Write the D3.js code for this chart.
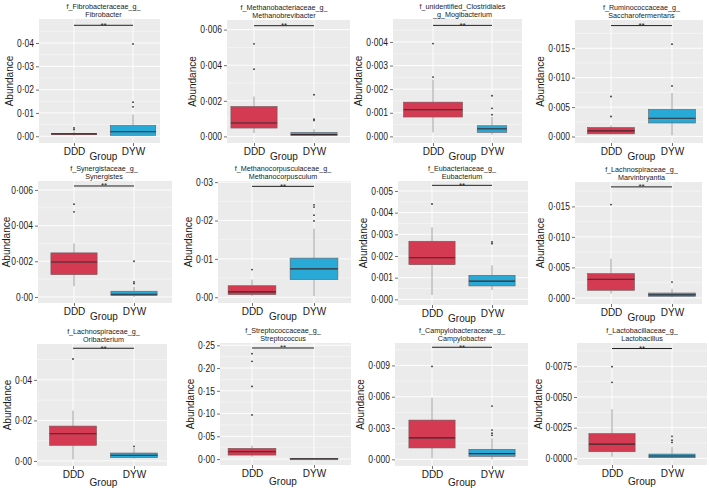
<!DOCTYPE html>
<html><head><meta charset="utf-8">
<script src="https://cdn.jsdelivr.net/npm/d3@7"></script>
<style>
body{margin:0;background:#fff}
text{font-family:"Liberation Sans",Arial,Helvetica,sans-serif}
</style>
</head><body>
<svg id="c" width="709" height="488"></svg>
<script>
// ---------------- DATA ----------------
const groups = ["DDD", "DYW"];
const titles = [
  ["f_Fibrobacteraceae_g_", "Fibrobacter"],
  ["f_Methanobacteriaceae_g_", "Methanobrevibacter"],
  ["f_unidentified_Clostridiales", "_g_Mogibacterium"],
  ["f_Ruminococcaceae_g_", "Saccharofermentans"],
  ["f_Synergistaceae_g_", "Synergistes"],
  ["f_Methanocorpusculaceae_g_", "Methanocorpusculum"],
  ["f_Eubacteriaceae_g_", "Eubacterium"],
  ["f_Lachnospiraceae_g_", "Marvinbryantia"],
  ["f_Lachnospiraceae_g_", "Oribacterium"],
  ["f_Streptococcaceae_g_", "Streptococcus"],
  ["f_Campylobacteraceae_g_", "Campylobacter"],
  ["f_Lactobacillaceae_g_", "Lactobacillus"]
];
const tickValues = [
  [0, 0.01, 0.02, 0.03, 0.04],
  [0, 0.002, 0.004, 0.006],
  [0, 0.001, 0.002, 0.003, 0.004],
  [0, 0.005, 0.010, 0.015],
  [0, 0.002, 0.004, 0.006],
  [0, 0.01, 0.02, 0.03],
  [0, 0.001, 0.002, 0.003, 0.004, 0.005],
  [0, 0.005, 0.010, 0.015],
  [0, 0.02, 0.04],
  [0, 0.05, 0.10, 0.15, 0.20, 0.25],
  [0, 0.003, 0.006, 0.009],
  [0, 0.0025, 0.0050, 0.0075]
];
const tickLabels = [
  ["0·00", "0·01", "0·02", "0·03", "0·04"],
  ["0·000", "0·002", "0·004", "0·006"],
  ["0·000", "0·001", "0·002", "0·003", "0·004"],
  ["0·000", "0·005", "0·010", "0·015"],
  ["0·00", "0·002", "0·004", "0·006"],
  ["0·00", "0·01", "0·02", "0·03"],
  ["0·000", "0·001", "0·002", "0·003", "0·004", "0·005"],
  ["0·000", "0·005", "0·010", "0·015"],
  ["0·00", "0·02", "0·04"],
  ["0·00", "0·05", "0·10", "0·15", "0·20", "0·25"],
  ["0·000", "0·003", "0·006", "0·009"],
  ["0·0000", "0·0025", "0·0050", "0·0075"]
];
const yLimits = [
  [-0.0029, 0.0503], [-0.00037, 0.00654], [-0.00028, 0.00497], [-0.0011, 0.0198],
  [-0.00034, 0.0065], [-0.0015, 0.0303], [-0.00026, 0.00546], [-0.001, 0.019],
  [-0.0025, 0.0577], [-0.013, 0.255], [-0.00064, 0.01115], [-0.00054, 0.0094]
];
const sigY = [0.0476, 0.00622, 0.0047, 0.01885, 0.00622, 0.0289, 0.00526, 0.0182, 0.0556, 0.244, 0.01074, 0.00895];
const sigLabel = "**";
// [lower whisker, q1, median, q3, upper whisker]
const dddStats = [
  [0.0003, 0.0008, 0.0010, 0.0012, 0.0020],
  [0.00019, 0.00047, 0.00075, 0.00168, 0.00224],
  [0.00017, 0.00082, 0.00113, 0.00145, 0.0024],
  [0.0003, 0.00045, 0.00096, 0.00153, 0.00187],
  [0.0006, 0.00125, 0.00196, 0.00247, 0.0030],
  [0.0003, 0.0007, 0.0014, 0.0030, 0.0046],
  [0.0002, 0.0016, 0.00192, 0.00268, 0.00332],
  [0.0007, 0.00125, 0.00305, 0.00398, 0.0064],
  [0.0008, 0.0077, 0.0134, 0.0172, 0.0249],
  [0.005, 0.0088, 0.016, 0.0235, 0.029],
  [0.0001, 0.00109, 0.00206, 0.00376, 0.0059],
  [0.00013, 0.00054, 0.00116, 0.00202, 0.0040]
];
const dywStats = [
  [0.0000, 0.0004, 0.0019, 0.0046, 0.0093],
  [0.0000, 0.00004, 0.00011, 0.00022, 0.0004],
  [0.00007, 0.00017, 0.00032, 0.00045, 0.00082],
  [0.0002, 0.0023, 0.0031, 0.0046, 0.0074],
  [0.0000, 0.00007, 0.00015, 0.00032, 0.00056],
  [0.0003, 0.0046, 0.0074, 0.0102, 0.0179],
  [0.00043, 0.00062, 0.00084, 0.00111, 0.00157],
  [0.0001, 0.00027, 0.0005, 0.0008, 0.0015],
  [0.0011, 0.0016, 0.0028, 0.0039, 0.0065],
  [0.0001, 0.0003, 0.0007, 0.0012, 0.0020],
  [0.0000, 0.00029, 0.00055, 0.00096, 0.0020],
  [0.0000, 0.00005, 0.00019, 0.00035, 0.00094]
];
const dddOutliers = [
  [0.0029, 0.0036], [0.00378, 0.0052], [0.00251, 0.00393], [0.0034, 0.0068],
  [0.00477, 0.0052], [0.0072], [0.0044], [0.0153],
  [0.0503], [0.097, 0.1596, 0.2147, 0.2316], [0.0089], [0.0062, 0.00747]
];
const dywOutliers = [
  [0.0126, 0.0146, 0.0396], [0.0009, 0.00097, 0.00234], [0.00092, 0.00119, 0.00172], [0.0086, 0.0157],
  [0.00075, 0.00084, 0.0020], [0.0199, 0.0214, 0.0235, 0.0241], [0.00257, 0.00265], [0.0026],
  [0.0072], [], [0.0023, 0.0025, 0.0028, 0.0051], [0.0013, 0.00148, 0.0018]
];

// ---------------- LAYOUT (pixels, not data) ----------------
const layout = [
  {x0: 39, x1: 160, y0: 19, y1: 143, c: [74, 133], row: 0},
  {x0: 227, x1: 350, y0: 20, y1: 143, c: [254, 314], row: 0},
  {x0: 393, x1: 522, y0: 19, y1: 143, c: [433, 492], row: 0, bw: [1.0, 0.5]},
  {x0: 575, x1: 703, y0: 20, y1: 143, c: [611, 672], row: 0},
  {x0: 38, x1: 172, y0: 181, y1: 303, c: [74, 134], row: 1},
  {x0: 218, x1: 351, y0: 181, y1: 303, c: [252, 314], row: 1},
  {x0: 398, x1: 528, y0: 181, y1: 305, c: [432, 492], row: 1},
  {x0: 575, x1: 702, y0: 182, y1: 304, c: [611, 672], row: 1},
  {x0: 37, x1: 167, y0: 344, y1: 466, c: [73, 134], row: 2},
  {x0: 220, x1: 351, y0: 343, y1: 465, c: [252, 314], row: 2},
  {x0: 395, x1: 528, y0: 343, y1: 466, c: [432, 492], row: 2},
  {x0: 577, x1: 707, y0: 343, y1: 465, c: [612, 672], row: 2}
];
const fills = ["#D43B52", "#29AAD6"];
const boxW = 0.77;
const FONT = "'Liberation Sans',Arial,sans-serif";

function squeeze(sel, f) {
  sel.each(function () {
    const len = this.getComputedTextLength();
    d3.select(this).attr("textLength", len * f).attr("lengthAdjust", "spacingAndGlyphs");
  });
}

const svg = d3.select("#c");
svg.append("rect").attr("width", 709).attr("height", 488).attr("fill", "#fff");

layout.forEach((L, i) => {
  const g = svg.append("g");
  const x = d3.scaleLinear().domain([1, 2]).range(L.c);
  const y = d3.scaleLinear().domain(yLimits[i]).range([L.y1, L.y0]);
  const W = L.x1 - L.x0;

  g.append("rect").attr("x", L.x0).attr("y", L.y0).attr("width", W).attr("height", L.y1 - L.y0).attr("fill", "#EBEBEB");

  const tv = tickValues[i];
  const step = tv[1] - tv[0];
  const minors = [];
  for (let k = -1; k < tv.length; k++) {
    const m = tv[0] + step * (k + 0.5);
    if (m > yLimits[i][0] && m < yLimits[i][1]) minors.push(m);
  }
  g.selectAll(".mn").data(minors).enter().append("line")
    .attr("x1", L.x0).attr("x2", L.x1).attr("y1", d => y(d)).attr("y2", d => y(d))
    .attr("stroke", "#fff").attr("stroke-width", 0.45).attr("stroke-opacity", 0.9);
  g.selectAll(".mj").data(tv).enter().append("line")
    .attr("x1", L.x0).attr("x2", L.x1).attr("y1", d => y(d)).attr("y2", d => y(d))
    .attr("stroke", "#fff").attr("stroke-width", 0.9);
  g.selectAll(".vj").data([1, 2]).enter().append("line")
    .attr("x1", d => x(d)).attr("x2", d => x(d)).attr("y1", L.y0).attr("y2", L.y1)
    .attr("stroke", "#fff").attr("stroke-width", 0.9);

  const stats = [dddStats[i], dywStats[i]];
  const outs = [dddOutliers[i], dywOutliers[i]];
  stats.forEach((s, gi) => {
    const cx = gi + 1;
    const bw = (L.bw ? L.bw[gi] : boxW) / 2;
    g.append("line").attr("x1", x(cx)).attr("x2", x(cx)).attr("y1", y(s[0])).attr("y2", y(s[1]))
      .attr("stroke", "#8a8a8a").attr("stroke-width", 0.8);
    g.append("line").attr("x1", x(cx)).attr("x2", x(cx)).attr("y1", y(s[3])).attr("y2", y(s[4]))
      .attr("stroke", "#8a8a8a").attr("stroke-width", 0.8);
    g.append("rect").attr("x", x(cx - bw)).attr("y", y(s[3]))
      .attr("width", x(cx + bw) - x(cx - bw)).attr("height", Math.max(1.2, y(s[1]) - y(s[3])))
      .attr("fill", fills[gi]).attr("stroke", "#6b5a5c").attr("stroke-width", 0.6);
    g.append("line").attr("x1", x(cx - bw)).attr("x2", x(cx + bw)).attr("y1", y(s[2])).attr("y2", y(s[2]))
      .attr("stroke", "#3a2a2c").attr("stroke-width", 1.1);
    g.selectAll(null).data(outs[gi]).enter().append("circle")
      .attr("cx", x(cx)).attr("cy", d => y(d)).attr("r", 0.9).attr("fill", "#333");
  });

  g.append("line").attr("x1", x(1)).attr("x2", x(2)).attr("y1", y(sigY[i])).attr("y2", y(sigY[i]))
    .attr("stroke", "#222").attr("stroke-width", 1);
  g.append("text").attr("x", x(1.5)).attr("y", y(sigY[i]) + 2.4).attr("text-anchor", "middle")
    .attr("font-size", 8).attr("fill", "#222").text(sigLabel);

  const ya = g.append("g").attr("transform", `translate(${L.x0},0)`)
    .call(d3.axisLeft(y).tickValues(tv).tickFormat((d, k) => tickLabels[i][k]).tickSize(3).tickPadding(2));
  ya.select(".domain").remove();
  ya.selectAll(".tick line").attr("stroke", "#333").attr("stroke-width", 0.7);
  const yt = ya.selectAll(".tick text").attr("font-size", 10).attr("fill", "#1a1a1a").attr("font-family", FONT);
  squeeze(yt, 0.85);
  let maxW = 0;
  yt.each(function () { maxW = Math.max(maxW, +d3.select(this).attr("textLength")); });

  const xa = g.append("g").attr("transform", `translate(0,${L.y1})`)
    .call(d3.axisBottom(x).tickValues([1, 2]).tickFormat((d, k) => groups[k]).tickSize(3).tickPadding(1.5));
  xa.select(".domain").remove();
  xa.selectAll(".tick line").attr("stroke", "#333").attr("stroke-width", 0.7);
  xa.selectAll(".tick text").attr("font-size", 10).attr("fill", "#1a1a1a").attr("font-family", FONT);

  const ax = Math.max(10, L.x0 - 5 - maxW - 4);
  const ym = (L.y0 + L.y1) / 2;
  g.append("text").attr("transform", `translate(${ax},${ym}) rotate(-90)`)
    .attr("text-anchor", "middle").attr("font-size", 10).attr("fill", "#1a1a1a").text("Abundance");
  g.append("text").attr("x", x(1.5)).attr("y", L.y1 + (L.row === 2 ? 20 : 16.5))
    .attr("text-anchor", "middle").attr("font-size", 10).attr("fill", "#1a1a1a").text("Group");

  g.append("text").attr("x", x(1.5)).attr("y", L.y0 - 10.5).attr("text-anchor", "middle")
    .attr("font-size", 7.2).attr("fill", "#1a1a1a").text(titles[i][0]);
  g.append("text").attr("x", x(1.5)).attr("y", L.y0 - 2).attr("text-anchor", "middle")
    .attr("font-size", 7.2).attr("fill", "#1a1a1a").text(titles[i][1]);
});
</script>
</body></html>
